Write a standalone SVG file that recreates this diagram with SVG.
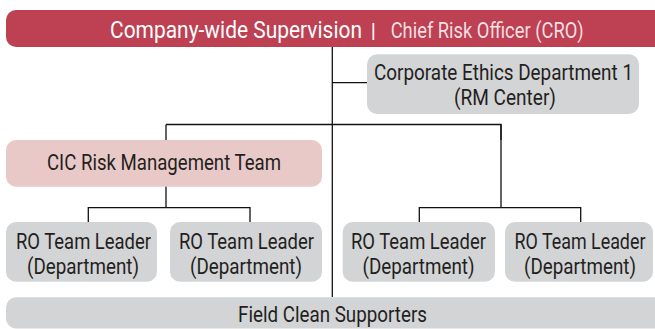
<svg xmlns="http://www.w3.org/2000/svg" width="655" height="329" viewBox="0 0 655 329">
<style>
.g{fill:#d3d4d6}
.t{font-family:Roboto,"Liberation Sans",sans-serif;font-size:21.5px;fill:#231f20;text-anchor:middle}
.c{stroke:#111;stroke-width:1.3;fill:none}
</style>
<rect width="655" height="329" fill="#fff"/>
<g id="connectors" class="c">
<path d="M332.3,47V297"/>
<path d="M332.3,82.7H367"/>
<path d="M166,124.5H501V140M166,124.5V140"/>
<path d="M166,186V207.7M88.3,222V207.7H250V222"/>
<path d="M501,124.5V207.7M419.3,222V207.7H580.7V222"/>
</g>
<g id="cro">
<rect x="6" y="10" width="664" height="37" rx="10" fill="#bd4053"/>
<text x="110" y="38.3" textLength="252" lengthAdjust="spacingAndGlyphs" style="font-family:Roboto,'Liberation Sans',sans-serif;font-size:23px;fill:#fff">Company-wide Supervision</text>
<text x="373.3" y="37.5" style="font-family:Roboto,'Liberation Sans',sans-serif;font-size:21px;fill:#fff;text-anchor:middle">|</text>
<text x="390.7" y="37.5" textLength="193" lengthAdjust="spacingAndGlyphs" style="font-family:Roboto,'Liberation Sans',sans-serif;font-size:21.5px;fill:#f4dfe2">Chief Risk Officer (CRO)</text>
</g>
<g id="ethics">
<rect class="g" x="367" y="54.3" width="272" height="59.7" rx="10"/>
<text class="t" x="503.5" y="80" textLength="259" lengthAdjust="spacingAndGlyphs">Corporate Ethics Department 1</text>
<text class="t" x="505" y="104.5" textLength="102" lengthAdjust="spacingAndGlyphs">(RM Center)</text>
</g>
<g id="cic">
<rect x="6" y="140" width="316" height="46.7" rx="10" fill="#e9c9c7"/>
<text class="t" x="164" y="170" textLength="234" lengthAdjust="spacingAndGlyphs">CIC Risk Management Team</text>
</g>
<g id="ro1">
<rect class="g" x="6" y="222" width="151" height="59.7" rx="10"/>
<text class="t" x="83.5" y="249.3" textLength="135" lengthAdjust="spacingAndGlyphs">RO Team Leader</text>
<text class="t" x="83" y="273.5" textLength="112" lengthAdjust="spacingAndGlyphs">(Department)</text>
</g>
<g id="ro2">
<rect class="g" x="170" y="222" width="152" height="59.7" rx="10"/>
<text class="t" x="246.5" y="249.3" textLength="135" lengthAdjust="spacingAndGlyphs">RO Team Leader</text>
<text class="t" x="246" y="273.5" textLength="112" lengthAdjust="spacingAndGlyphs">(Department)</text>
</g>
<g id="ro3">
<rect class="g" x="342.7" y="222" width="152.3" height="59.7" rx="10"/>
<text class="t" x="418.5" y="249.3" textLength="135" lengthAdjust="spacingAndGlyphs">RO Team Leader</text>
<text class="t" x="418.5" y="273.5" textLength="112" lengthAdjust="spacingAndGlyphs">(Department)</text>
</g>
<g id="ro4">
<rect class="g" x="505" y="222" width="148" height="59.7" rx="10"/>
<text class="t" x="580" y="249.3" textLength="131" lengthAdjust="spacingAndGlyphs">RO Team Leader</text>
<text class="t" x="580" y="273.5" textLength="112" lengthAdjust="spacingAndGlyphs">(Department)</text>
</g>
<g id="field">
<rect class="g" x="6" y="297.3" width="660" height="31.2" rx="10"/>
<text class="t" x="332.5" y="321.7" textLength="189" lengthAdjust="spacingAndGlyphs">Field Clean Supporters</text>
</g>
</svg>
